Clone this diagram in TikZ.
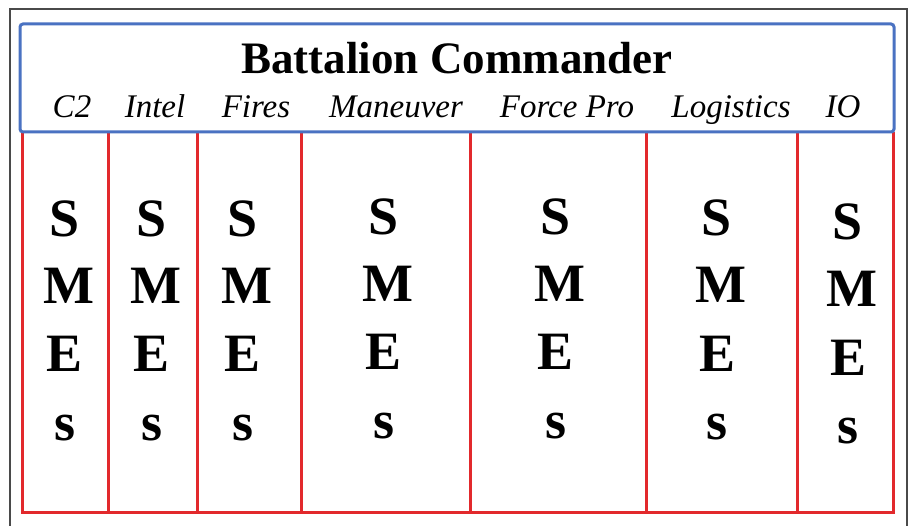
\documentclass[tikz,border=0pt]{standalone}
\usepackage{fontspec}
\setmainfont{Liberation Serif}
\definecolor{hqblue}{HTML}{4A72C2}
\definecolor{smered}{HTML}{E2292C}
\definecolor{framegray}{HTML}{4A4A4A}
\begin{document}
\begin{tikzpicture}[x=1pt,y=-1pt,
  titletext/.style={font=\fontsize{45}{50}\selectfont\bfseries, anchor=base, inner sep=0pt},
  areatext/.style={font=\fontsize{33}{36}\selectfont\itshape, anchor=base, inner sep=0pt},
  letter/.style={font=\fontsize{54}{60}\selectfont\bfseries, anchor=base, inner sep=0pt},
  redline/.style={smered, line width=3pt},
  blueline/.style={hqblue, line width=3pt, rounded corners=3pt},
  frameline/.style={framegray, line width=1.3pt}]
\useasboundingbox (0,0) rectangle (910,526);
\fill[white] (0,0) rectangle (910,526);
% outer frame
\draw[frameline] (10,540) -- (10,9) -- (907,9) -- (907,540);
% red columns
\foreach \x [count=\i] in {22,108,197,301,470,646,797,893} {
  \coordinate (t\i) at (\x,132);
  \coordinate (b\i) at (\x,512);
  \draw[redline] (t\i) -- (b\i);
}
\draw[redline, line cap=rect] (b1) -- (b8);
% blue header box
\draw[blueline] (20,24) rectangle (894,132);
\node[titletext] (title) at (457,74) {Battalion Commander};
\foreach \x/\name/\txt in {72/c2/C2, 155/intel/Intel, 256/fires/Fires, 396/man/Maneuver, 567/fp/Force Pro, 731/log/Logistics, 843/io/IO} {
  \node[areatext] (\name) at (\x,118) {\txt};
}
% SMEs letters
\foreach \x/\b/\name in {65/237/c2, 152/237/intel, 243/237/fires, 384/235/man, 556/235/fp, 717/236/log, 848/240/io} {
  \node[letter] (\name-s) at (\x,\b) {S};
  \node[letter] (\name-m) at (\x+4,\b+67) {M};
  \node[letter] (\name-e) at (\x,\b+135) {E};
  \node[letter] (\name-l) at (\x,\b+203) {s};
}
\end{tikzpicture}
\end{document}
